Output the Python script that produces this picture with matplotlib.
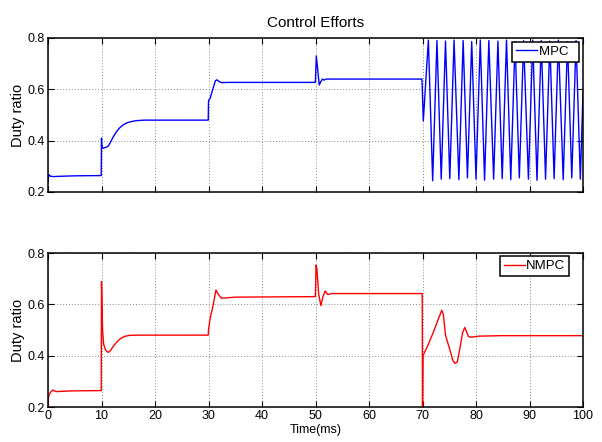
import numpy as np
import matplotlib
matplotlib.use("Agg")
import matplotlib.pyplot as plt

plt.rcParams['font.family'] = ['Liberation Sans', 'DejaVu Sans']

# MPC duty ratio (time in ms)
mpc_t = [0.0, 0.15, 0.4, 1.0, 2.0, 5.0, 9.95,
         10.0, 10.05, 10.2, 10.5, 11.0, 11.3, 11.7, 12.2, 12.8, 13.4, 14.0, 14.7, 15.5, 16.5, 18.0, 29.95,
         30.0, 30.1, 30.3, 30.8, 31.3, 31.6, 32.0, 32.5, 33.5, 49.95,
         50.0, 50.15, 50.35, 50.7, 51.0, 51.3, 51.6, 52.0, 69.9,
         70.15,
         71.1, 71.9, 72.7, 73.5, 74.3, 75.1, 75.9, 76.8, 77.6, 78.4, 79.2, 80.0,
         80.8, 81.6, 82.4, 83.3, 84.1, 84.9, 85.7, 86.5, 87.3, 88.1, 88.9, 89.8,
         90.6, 91.4, 92.2, 93.0, 93.8, 94.6, 95.4, 96.3, 97.1, 97.9, 98.7, 99.5, 100.0]
mpc_v = [0.240, 0.268, 0.262, 0.260, 0.261, 0.263, 0.264,
         0.410, 0.385, 0.370, 0.372, 0.375, 0.380, 0.395, 0.415, 0.435, 0.450, 0.461, 0.469, 0.474, 0.478, 0.480, 0.480,
         0.552, 0.560, 0.565, 0.600, 0.634, 0.637, 0.630, 0.626, 0.627, 0.627,
         0.640, 0.730, 0.690, 0.617, 0.630, 0.640, 0.636, 0.640, 0.640,
         0.477,
         0.792, 0.244, 0.790, 0.250, 0.788, 0.252, 0.792, 0.248, 0.790, 0.255, 0.786, 0.250,
         0.792, 0.246, 0.790, 0.250, 0.788, 0.252, 0.792, 0.248, 0.786, 0.255, 0.790, 0.250,
         0.792, 0.246, 0.790, 0.250, 0.788, 0.252, 0.792, 0.248, 0.786, 0.255, 0.790, 0.250, 0.590]

# NMPC duty ratio (time in ms)
nmpc_t = [0.0, 0.05, 0.2, 0.5, 0.9, 1.5, 2.5, 5.0, 9.95,
          10.0, 10.05, 10.2, 10.4, 10.7, 11.0, 11.3, 11.7, 12.2, 12.8, 13.5, 14.3, 15.2, 16.5, 29.95,
          30.0, 30.3, 30.8, 31.4, 31.8, 32.4, 33.2, 35.0, 49.95,
          50.0, 50.1, 50.25, 50.6, 51.0, 51.4, 51.8, 52.3, 53.0, 69.95,
          70.0, 70.1, 71.0, 72.0, 73.0, 73.6, 73.9, 74.3, 74.8, 75.3, 75.7, 76.1, 76.5,
          77.0, 77.5, 77.9, 78.2, 78.6, 79.2, 80.5, 85.0, 100.0]
nmpc_v = [0.190, 0.230, 0.248, 0.258, 0.266, 0.260, 0.261, 0.263, 0.264,
          0.688, 0.640, 0.500, 0.445, 0.425, 0.416, 0.413, 0.420, 0.437, 0.452, 0.466, 0.475, 0.479, 0.480, 0.480,
          0.500, 0.545, 0.590, 0.656, 0.640, 0.624, 0.625, 0.628, 0.630,
          0.650, 0.753, 0.740, 0.640, 0.595, 0.630, 0.652, 0.638, 0.642, 0.642,
          0.180, 0.400, 0.440, 0.490, 0.545, 0.577, 0.560, 0.480, 0.445, 0.410, 0.380, 0.370, 0.375,
          0.430, 0.490, 0.510, 0.495, 0.474, 0.472, 0.476, 0.478, 0.478]

xticks = np.arange(0, 101, 10)
yticks = [0.2, 0.4, 0.6, 0.8]


def style_axes(ax):
    ax.set_xlim(0, 100)
    ax.set_ylim(0.2, 0.8)
    ax.set_xticks(xticks)
    ax.set_yticks(yticks)
    ax.grid(True, color='#888888', linestyle=(0, (1, 2)), linewidth=0.7)
    ax.tick_params(direction='in', length=4, width=0.8, top=True, right=True,
                   labelsize=9, pad=2.5)
    for s in ax.spines.values():
        s.set_linewidth(1.1)
    ax.set_ylabel('Duty ratio', fontsize=10.5)
    ax.yaxis.set_label_coords(-0.043, 0.5)


fig = plt.figure(figsize=(6.02, 4.42), dpi=100)
ax1 = fig.add_axes([48 / 602, 1 - 192 / 442, 535 / 602, 154 / 442])
ax2 = fig.add_axes([48 / 602, 1 - 407 / 442, 535 / 602, 154 / 442])

ax1.plot(mpc_t, mpc_v, color='blue', lw=1.0, label='MPC  ')
style_axes(ax1)
ax1.tick_params(labelbottom=False)
ax1.set_title('Control Efforts', fontsize=11, pad=8)
leg1 = ax1.legend(loc='upper right', bbox_to_anchor=(0.993, 0.976), borderaxespad=0,
                  fancybox=False, edgecolor='black', framealpha=1, fontsize=9.5,
                  handlelength=1.6, handletextpad=0.1, borderpad=0.3)
leg1.get_frame().set_linewidth(1.1)

ax2.plot(nmpc_t, nmpc_v, color='red', lw=1.0, label='NMPC')
style_axes(ax2)
ax2.set_xlabel('Time(ms)', fontsize=9, labelpad=1)
leg2 = ax2.legend(loc='upper right', bbox_to_anchor=(0.974, 0.98), borderaxespad=0,
                  fancybox=False, edgecolor='black', framealpha=1, fontsize=9.5,
                  handlelength=1.6, handletextpad=0.1, borderpad=0.3)
leg2.get_frame().set_linewidth(1.1)

fig.savefig('out.png', dpi=100)
